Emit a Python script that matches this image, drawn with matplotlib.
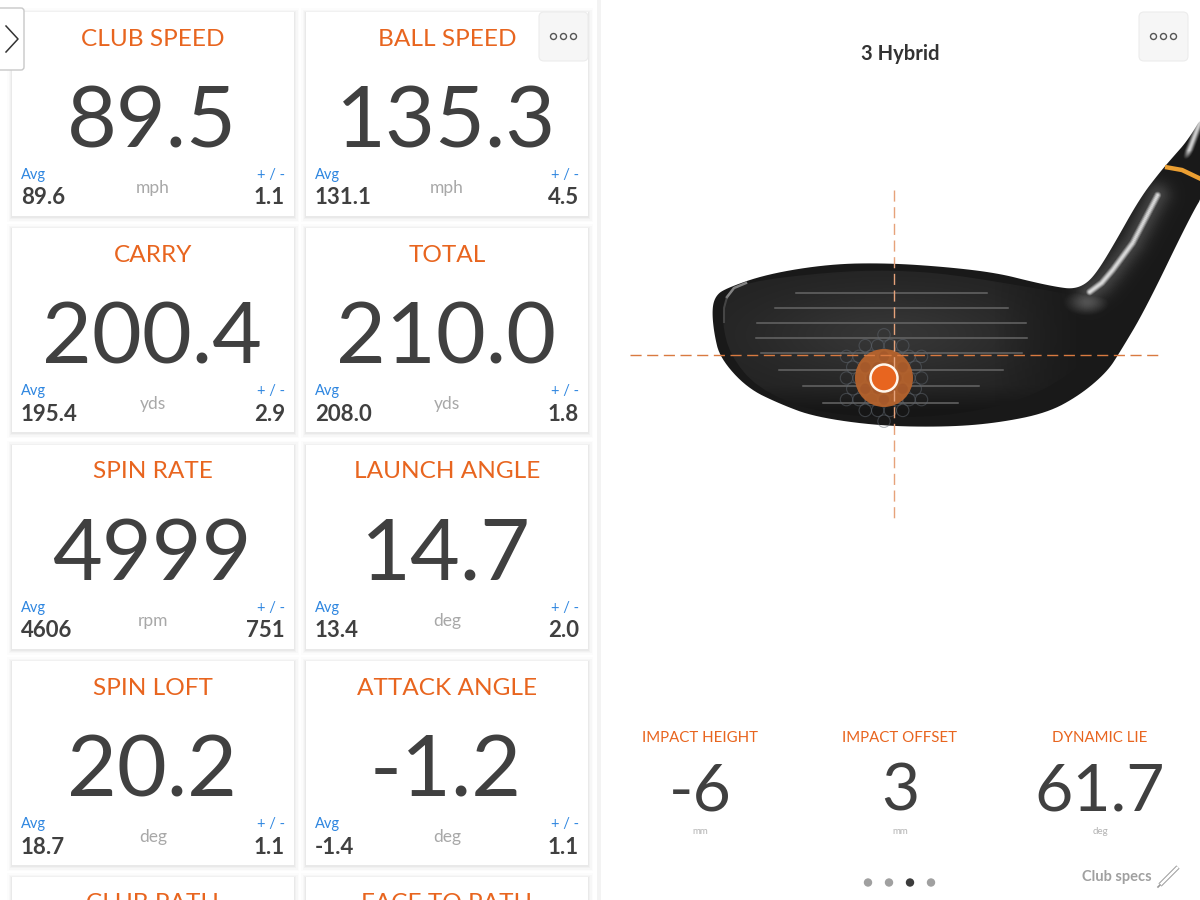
import numpy as np
import matplotlib
matplotlib.use('Agg')
import matplotlib.pyplot as plt
from matplotlib.patches import Rectangle, FancyBboxPatch, Circle, Polygon

plt.rcParams['font.family'] = ['Lato', 'Open Sans', 'DejaVu Sans']

# metric tiles, left panel
titles = ['CLUB SPEED', 'BALL SPEED', 'CARRY', 'TOTAL', 'SPIN RATE', 'LAUNCH ANGLE', 'SPIN LOFT', 'ATTACK ANGLE']
values = ['89.5', '135.3', '200.4', '210.0', '4999', '14.7', '20.2', '-1.2']
avgs = ['89.6', '131.1', '195.4', '208.0', '4606', '13.4', '18.7', '-1.4']
spreads = ['1.1', '4.5', '2.9', '1.8', '751', '2.0', '1.1', '1.1']
units = ['mph', 'mph', 'yds', 'yds', 'rpm', 'deg', 'deg', 'deg']
cut_titles = ['CLUB PATH', 'FACE TO PATH']

# right panel
club_name = '3 Hybrid'
impact_titles = ['IMPACT HEIGHT', 'IMPACT OFFSET', 'DYNAMIC LIE']
impact_values = ['-6', '3', '61.7']
impact_units = ['mm', 'mm', 'deg']
impact_x = [700, 900, 1100]

# club outline, picture pixels
head_x = [712, 715, 724, 767, 830, 887, 947, 997, 1033, 1057, 1073, 1086, 1097, 1113, 1140, 1160, 1173, 1188, 1206,
          1206, 1190, 1145, 1120, 1107, 1080, 1047, 997, 947, 880, 815, 780, 747, 720, 714]
head_y = [310, 297, 289, 274, 264, 263, 267, 273, 282, 287, 289, 284, 272, 246, 198, 172, 157, 140, 110,
          190, 217, 310, 352, 372, 395, 413, 423, 427, 426, 417, 404, 388, 358, 333]
face_x = [745, 725, 722, 730, 757, 810, 880, 960, 1040, 1100, 1100, 1040, 950, 890, 830]
face_y = [282, 296, 322, 355, 388, 411, 418, 415, 395, 350, 300, 289, 274, 270, 272]
groove_y = [293, 308, 323, 338, 353, 370, 386, 403]
groove_x0 = [796, 775, 757, 756, 761, 779, 803, 823]
groove_x1 = [987, 1008, 1026, 1027, 1022, 1003, 979, 958]
neck_light_x = [1158, 1133, 1113, 1102, 1090]
neck_light_y = [195, 243, 270, 283, 292]

ORANGE = '#e8651f'
DARK = '#404040'
BLUE = '#2e86e0'
GREY = '#a8a8a8'


def smooth(xs, ys, rounds=3):
    pts = np.column_stack([xs, ys]).astype(float)
    for _ in range(rounds):
        nxt = np.roll(pts, -1, axis=0)
        pts = np.column_stack([0.75 * pts + 0.25 * nxt, 0.25 * pts + 0.75 * nxt]).reshape(-1, 2)
    return pts


def card(x, y, w, h):
    for grow, alpha in [(5, 0.012), (3.5, 0.018), (2, 0.025), (1, 0.03)]:
        ax.add_patch(Rectangle((x - grow, y - grow + 1), w + 2 * grow, h + 2 * grow, fc='black', ec='none', alpha=alpha, zorder=1))
    ax.add_patch(Rectangle((x, y), w, h, fc='white', ec='none', zorder=2))


def dots_button(x, y):
    ax.add_patch(FancyBboxPatch((x + 4, y + 4), 41, 41, boxstyle='round,pad=4,rounding_size=5', fc='#f6f6f6', ec='#ececec', lw=0.8, zorder=6))
    for dx in [-10, 0, 10]:
        ax.add_patch(Circle((x + 24.5 + dx, y + 24.5), 3, fc='none', ec='#555555', lw=1, zorder=7))


fig = plt.figure(figsize=(12, 9), dpi=100)
ax = fig.add_axes([0, 0, 1, 1])
ax.set_xlim(0, 1200)
ax.set_ylim(900, 0)
ax.axis('off')

# panel divider
ax.add_patch(Rectangle((597, 0), 4, 900, fc='#f3f3f3', ec='none', zorder=0))

card_x = [12, 306]
card_y = [12, 228.4, 444.8, 661.2]
for i in range(len(titles)):
    x = card_x[i % 2]
    y = card_y[i // 2]
    cx = x + 141
    card(x, y, 282, 204)
    ax.text(cx, y + 27, titles[i], color=ORANGE, fontsize=17.6, ha='center', va='center', zorder=5)
    ax.text(cx - 1, y + 111, values[i], color=DARK, fontsize=62, ha='center', va='center', zorder=5)
    ax.text(x + 9, y + 163, 'Avg', color=BLUE, fontsize=10.5, ha='left', va='center', zorder=5)
    ax.text(x + 9, y + 186, avgs[i], color=DARK, fontsize=16, fontweight='bold', ha='left', va='center', zorder=5)
    ax.text(cx, y + 176, units[i], color=GREY, fontsize=12.5, ha='center', va='center', zorder=5)
    ax.text(x + 273, y + 163, '+ / -', color=BLUE, fontsize=10.5, ha='right', va='center', zorder=5)
    ax.text(x + 273, y + 186, spreads[i], color=DARK, fontsize=16, fontweight='bold', ha='right', va='center', zorder=5)

# cards cut by bottom edge
for x, t in zip(card_x, cut_titles):
    card(x, 877, 282, 40)
    ax.text(x + 141, 904, t, color=ORANGE, fontsize=17.6, ha='center', va='center', zorder=5, clip_on=True)

# side tab
ax.add_patch(FancyBboxPatch((-8, 8), 32, 62, boxstyle='round,pad=0,rounding_size=3', fc='white', ec='#c8c8c8', lw=1, zorder=8))
ax.plot([6, 18, 6], [26, 39, 52], color='#333333', lw=1.1, zorder=9)

dots_button(539, 12)
dots_button(1139, 12)

ax.text(900, 54, club_name, color='#333333', fontsize=14.5, fontweight='bold', ha='center', va='center')

# club body, near black with shiny strips on the neck
outline = smooth(head_x, head_y)
gx, gy = np.meshgrid(np.linspace(700, 1204, 504), np.linspace(100, 430, 330))
body = np.full(gx.shape, 0.08)
body -= 0.05 * np.clip((gx - 1110) / 40, 0, 1)
t = np.linspace(0, 4, 120)
glow = np.zeros(gx.shape)
core = np.zeros(gx.shape)
for lx, ly in zip(np.interp(t, range(5), neck_light_x), np.interp(t, range(5), neck_light_y)):
    d2 = (gx - lx) ** 2 + (gy - ly) ** 2
    core = np.maximum(core, np.exp(-d2 / 3.6 ** 2))
    glow = np.maximum(glow, np.exp(-d2 / 13 ** 2))
body = np.maximum(body, 0.85 * core)
body = np.maximum(body, 0.1 + 0.16 * glow)
body = np.maximum(body, 0.32 * np.exp(-((gx - 1087) / 22) ** 2 - ((gy - 302) / 13) ** 2))
strip = np.abs((gx - 1198) + (gy - 128) * 0.38)
body = np.maximum(body, 0.8 * np.exp(-(strip / 3.5) ** 2) * np.clip((160 - gy) / 10, 0, 1))
body_img = ax.imshow(body, extent=(700, 1204, 430, 100), cmap='gray', vmin=0, vmax=1, aspect='auto', zorder=3)
clip = Polygon(outline, closed=True, fc='none', ec='none', zorder=3)
ax.add_patch(clip)
body_img.set_clip_path(clip)

# striking face, fades into body to the right
grey = 0.135 + 0.075 * np.exp(-((gx - 890) / 130) ** 2 - ((gy - 335) / 45) ** 2)
grey -= 0.05 * np.clip((gy - 385) / 25, 0, 1)
rgba = np.dstack([grey, grey, grey, np.clip((1085 - gx) / 90, 0, 1)])
face_img = ax.imshow(rgba, extent=(700, 1204, 430, 100), aspect='auto', zorder=3.1)
face_clip = Polygon(smooth(face_x, face_y, 2), closed=True, fc='none', ec='none', zorder=3)
ax.add_patch(face_clip)
face_img.set_clip_path(face_clip)
ax.set_xlim(0, 1200)
ax.set_ylim(900, 0)

# toe edge highlight
ax.plot([746, 734, 727], [283, 288, 297], color='#b0b0b0', lw=1.8, alpha=0.7, zorder=4)
ax.plot([727, 724, 724], [297, 308, 322], color='#707070', lw=1.5, alpha=0.45, zorder=4)

# ferrule band
ax.plot([1165, 1182, 1203], [167, 170, 180], color='#eb9f32', lw=3.2, solid_capstyle='butt', zorder=4)

for y, x0, x1 in zip(groove_y, groove_x0, groove_x1):
    ax.plot([x0, x1], [y, y], color='#666666', lw=1.1, zorder=4)

# impact marker: dimple pattern, halo, dot
dot_x, dot_y = 884, 378
for row in range(-5, 6):
    for col in range(-5, 6):
        hx = dot_x + 12.5 * (col + 0.5 * (row % 2))
        hy = dot_y + 10.8 * row
        if np.hypot(hx - dot_x, hy - dot_y) < 44:
            ax.add_patch(Circle((hx, hy), 6.2, fc='none', ec='#5f666e', lw=0.8, alpha=0.5, zorder=4))
ax.add_patch(Circle((dot_x, dot_y), 29, fc='#b5622c', ec='none', alpha=0.95, zorder=5))
for row in range(-3, 4):
    for col in range(-3, 4):
        hx = dot_x + 12.5 * (col + 0.5 * (row % 2))
        hy = dot_y + 10.8 * row
        if np.hypot(hx - dot_x, hy - dot_y) < 24:
            ax.add_patch(Circle((hx, hy), 5, fc='#a1552a', ec='none', alpha=0.6, zorder=5))
ax.add_patch(Circle((dot_x, dot_y), 13.5, fc=ORANGE, ec='#fff6ec', lw=1.8, zorder=7))

# crosshair
ax.plot([630, 1158], [355, 355], color='#d97a40', lw=1, dashes=(8, 4), zorder=6)
ax.plot([894, 894], [190, 521], color='#e6a27a', lw=1, dashes=(8, 4), zorder=6)

# impact stats
for x, t_, v, u in zip(impact_x, impact_titles, impact_values, impact_units):
    ax.text(x, 738.5, t_, color=ORANGE, fontsize=10.8, ha='center', va='center')
    ax.text(x, 792, v, color=DARK, fontsize=47.5, ha='center', va='center')
    ax.text(x, 832, u, color='#b4b4b4', fontsize=7, ha='center', va='center')

# page dots
for x, c in zip([868, 889, 910, 931], ['#a0a0a0', '#a0a0a0', '#3c3c3c', '#a0a0a0']):
    ax.add_patch(Circle((x, 882.5), 4.2, fc=c, ec='none'))

ax.text(1152, 877, 'Club specs', color='#a0a0a0', fontsize=10.5, fontweight='bold', ha='right', va='center')
ax.plot([1160, 1178], [885, 867], color='#999999', lw=3.2, solid_capstyle='butt')
ax.plot([1160, 1178], [885, 867], color='white', lw=1.8, solid_capstyle='butt')
ax.plot([1158, 1160], [887, 885], color='#999999', lw=1.2)

fig.savefig('out.png', dpi=100)
